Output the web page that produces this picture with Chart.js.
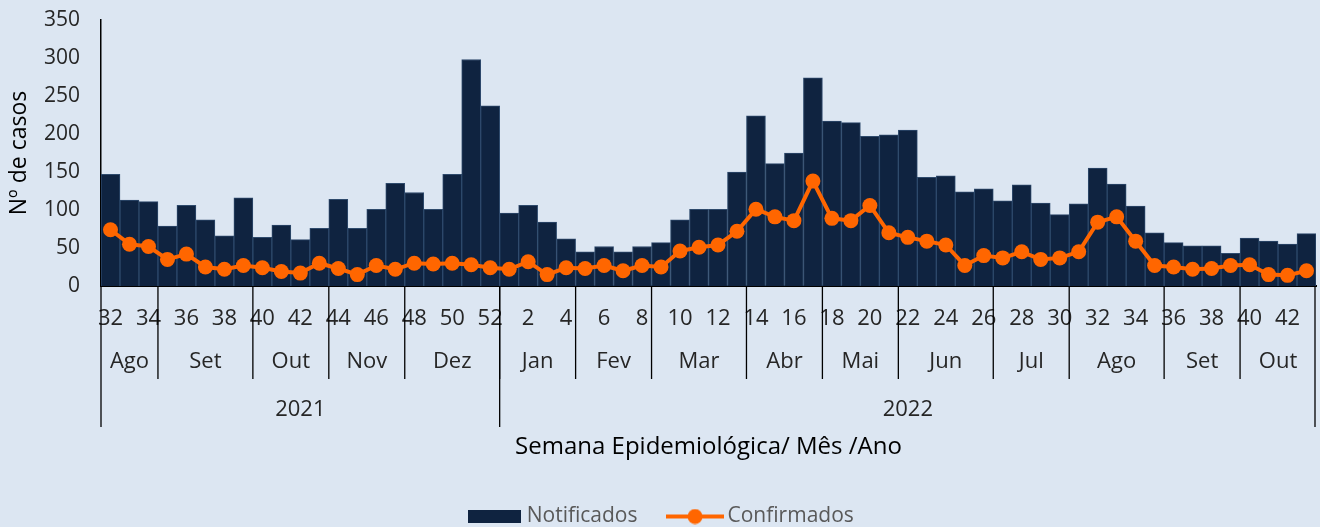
<!DOCTYPE html>
<html>
<head>
<meta charset="utf-8">
<script src="https://cdn.jsdelivr.net/npm/chart.js@4.4.0/dist/chart.umd.min.js"></script>
<style>
  html, body { margin: 0; padding: 0; background: #dce6f2; overflow: hidden; }
  #wrap { width: 1320px; height: 537px; }
</style>
</head>
<body>
<div id="wrap"><canvas id="chart" width="1320" height="537"></canvas></div>
<script>
// weeks: 2021 wk 32-52, 2022 wk 1-43
const weekLabels = [
  "32","33","34","35","36","37","38","39","40","41","42","43","44","45","46","47","48","49","50","51","52",
  "1","2","3","4","5","6","7","8","9","10","11","12","13","14","15","16","17","18","19","20",
  "21","22","23","24","25","26","27","28","29","30","31","32","33","34","35","36","37","38","39","40",
  "41","42","43"
];

const monthNames = ["Ago","Set","Out","Nov","Dez","Jan","Fev","Mar","Abr","Mai","Jun","Jul","Ago","Set","Out"];
const monthWeeks = [3, 5, 4, 4, 5, 4, 4, 5, 4, 4, 5, 4, 5, 4, 4];

const yearNames = ["2021", "2022"];
const yearWeeks = [21, 43];

const notificados = [
  147,113,111,79,106,87,66,116,64,80,61,76,114,76,101,135,123,101,147,298,237,
  96,106,84,62,45,52,45,52,57,87,101,101,150,224,161,175,274,217,215,197,
  199,205,143,145,124,128,112,133,109,94,108,155,134,105,70,57,53,53,43,63,
  59,55,69
];

const confirmados = [
  74,55,52,35,42,25,22,27,24,19,17,30,23,15,27,22,30,29,30,28,24,
  22,32,15,24,23,27,20,27,25,46,51,54,72,101,91,86,138,89,86,106,
  70,64,59,54,27,40,37,45,35,37,45,84,91,59,27,25,22,23,27,28,
  15,14,20
];

const navy = "#0f2340";
const orange = "#ff6600";
const font = "Open Sans";

// legend icons
function makeBarIcon() {
  const c = document.createElement("canvas");
  c.width = 53; c.height = 13;
  const g = c.getContext("2d");
  g.fillStyle = navy;
  g.fillRect(0, 0, 53, 13);
  return c;
}
function makeLineIcon() {
  const c = document.createElement("canvas");
  c.width = 58; c.height = 16;
  const g = c.getContext("2d");
  g.strokeStyle = orange;
  g.lineWidth = 4;
  g.beginPath(); g.moveTo(0, 8); g.lineTo(58, 8); g.stroke();
  g.fillStyle = orange;
  g.beginPath(); g.arc(29, 8, 7.5, 0, Math.PI * 2); g.fill();
  return c;
}
const barIcon = makeBarIcon();
const lineIcon = makeLineIcon();

// month / year rows under the week ticks
const monthAxis = {
  id: "monthAxis",
  afterLayout(chart) {
    // nudge legend a little to the right, like the original
    chart.legend.left += 5;
    chart.legend.right += 5;
  },
  afterDraw(chart) {
    const ctx = chart.ctx;
    const x = chart.scales.x;
    const top = x.top;
    const half = (x.getPixelForValue(1) - x.getPixelForValue(0)) / 2;
    const edge = i => x.getPixelForValue(i) - half;

    ctx.save();
    ctx.strokeStyle = "#000";
    ctx.lineWidth = 1.3;
    ctx.fillStyle = "#262626";
    ctx.font = "22px '" + font + "'";
    ctx.textAlign = "center";
    ctx.textBaseline = "middle";

    let i = 0;
    monthNames.forEach((m, k) => {
      const a = edge(i), b = edge(i + monthWeeks[k]);
      ctx.fillText(m, (a + b) / 2, top + 76);
      if (i > 0) {
        ctx.beginPath(); ctx.moveTo(a, top); ctx.lineTo(a, top + 93); ctx.stroke();
      }
      i += monthWeeks[k];
    });

    i = 0;
    yearNames.forEach((y, k) => {
      const a = edge(i), b = edge(i + yearWeeks[k]);
      ctx.fillText(y, (a + b) / 2, top + 124);
      ctx.beginPath(); ctx.moveTo(a, top); ctx.lineTo(a, top + 141); ctx.stroke();
      i += yearWeeks[k];
    });
    const end = edge(weekLabels.length) - 1;
    ctx.beginPath(); ctx.moveTo(end, top); ctx.lineTo(end, top + 141); ctx.stroke();
    ctx.restore();
  }
};

const ctx = document.getElementById("chart").getContext("2d");
new Chart(ctx, {
  data: {
    labels: weekLabels,
    datasets: [
      {
        type: "bar",
        label: "Notificados",
        data: notificados,
        backgroundColor: navy,
        borderColor: "#2e4a6c",
        borderWidth: 1,
        barPercentage: 1,
        categoryPercentage: 1,
        order: 1
      },
      {
        type: "line",
        label: "Confirmados",
        data: confirmados,
        borderColor: orange,
        backgroundColor: orange,
        borderWidth: 4,
        pointRadius: 7.5,
        pointHoverRadius: 7.5,
        pointBorderWidth: 0,
        pointBackgroundColor: orange,
        tension: 0,
        order: 0
      }
    ]
  },
  options: {
    responsive: false,
    animation: false,
    layout: { autoPadding: false, padding: { top: 20, right: 4, left: 0, bottom: 0 } },
    plugins: {
      tooltip: { enabled: false },
      legend: {
        position: "bottom",
        align: "center",
        labels: {
          usePointStyle: true,
          pointStyleWidth: 44,
          boxHeight: 19,
          padding: 35.5,
          color: "#595959",
          font: { family: font, size: 21 },
          sort: (a, b) => a.datasetIndex - b.datasetIndex,
          generateLabels(chart) {
            const items = Chart.defaults.plugins.legend.labels.generateLabels(chart);
            items.forEach(it => {
              it.pointStyle = it.datasetIndex === 0 ? barIcon : lineIcon;
              it.rotation = 0;
            });
            return items;
          }
        }
      }
    },
    scales: {
      x: {
        grid: { display: false, drawTicks: false },
        border: { color: "#000", width: 2 },
        ticks: {
          autoSkip: false,
          maxRotation: 0,
          padding: 20,
          color: "#262626",
          font: { family: font, size: 22 },
          callback: (v, i) => (i % 2 === 0 ? weekLabels[i] : "")
        },
        title: {
          display: true,
          text: "Semana Epidemiológica/ Mês /Ano",
          color: "#000",
          font: { family: font, size: 24 },
          padding: { top: 0, bottom: 9.1 }
        },
        afterFit(s) {
          s.height = 184.5;
          s.paddingLeft = 0;
          s.paddingRight = 0;
        }
      },
      y: {
        min: 0,
        max: 350,
        grid: { display: false, drawTicks: false },
        border: { color: "#000", width: 1.5 },
        ticks: {
          stepSize: 50,
          padding: 21,
          color: "#262626",
          font: { family: font, size: 21 }
        },
        title: {
          display: true,
          text: "Nº de casos",
          color: "#000",
          font: { family: font, size: 23 },
          padding: { top: 6, bottom: 0 }
        },
        afterFit(s) {
          s.width = 101;
          s.paddingTop = 0;
          s.paddingBottom = 0;
        }
      }
    }
  },
  plugins: [monthAxis]
});
</script>
</body>
</html>
